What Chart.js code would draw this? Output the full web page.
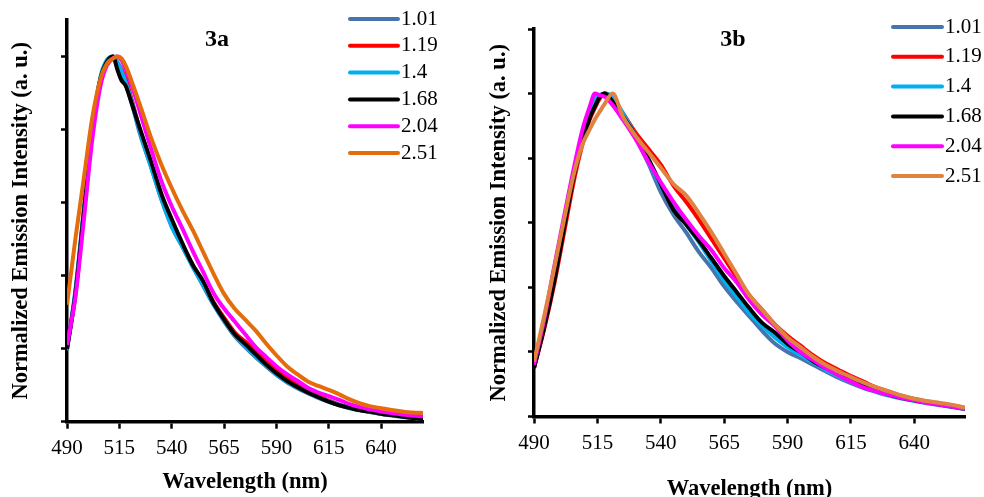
<!DOCTYPE html>
<html>
<head>
<meta charset="utf-8">
<script src="https://cdn.jsdelivr.net/npm/chart.js@4/dist/chart.umd.min.js"></script>
<style>
  html, body { margin: 0; background: #fff; }
  #wrap { position: relative; width: 984px; height: 497px; overflow: hidden; }
  canvas { position: absolute; top: 0; }
  #cA { left: 0; }
  #cB { left: 480px; }
</style>
</head>
<body>
<div id="wrap">
  <canvas id="cA" width="480" height="497" style="width:480px;height:497px"></canvas>
  <canvas id="cB" width="504" height="497" style="width:504px;height:497px"></canvas>
</div>
<script>
// emission spectra, normalized, per sample
const wavelengths = [490,494,498,502,506,509,512,514,516,518,521,525,530,535,540,545,550,555,560,565,570,575,580,585,590,595,600,605,610,615,620,625,630,635,640,645,650,655,660];
const xTicks = [490,515,540,565,590,615,640];
const yTicksA = [0,0.2,0.4,0.6,0.8,1.0];
const yTicksB = [0,0.2,0.4,0.6,0.8,1.0,1.2];
const seriesLabels = ['1.01','1.19','1.4','1.68','2.04','2.51'];

// 3a
const a101 = [0.195,0.35,0.57,0.79,0.94,0.985,1.0,0.98,0.955,0.925,0.87,0.785,0.70,0.61,0.535,0.48,0.425,0.372,0.32,0.275,0.235,0.205,0.177,0.152,0.128,0.108,0.092,0.078,0.065,0.054,0.045,0.037,0.031,0.026,0.021,0.017,0.013,0.010,0.007];
const a119 = [0.20,0.355,0.575,0.795,0.94,0.985,1.0,0.985,0.965,0.94,0.88,0.795,0.705,0.615,0.545,0.485,0.43,0.38,0.328,0.285,0.245,0.22,0.195,0.17,0.145,0.12,0.10,0.084,0.07,0.058,0.047,0.039,0.032,0.027,0.022,0.018,0.015,0.011,0.008];
const a140 = [0.20,0.36,0.58,0.80,0.945,0.99,1.0,0.985,0.96,0.93,0.875,0.79,0.70,0.61,0.535,0.48,0.425,0.375,0.322,0.278,0.238,0.208,0.18,0.155,0.13,0.11,0.094,0.08,0.067,0.056,0.046,0.038,0.032,0.027,0.022,0.018,0.014,0.011,0.008];
const a168 = [0.20,0.35,0.57,0.79,0.94,0.985,1.0,0.965,0.935,0.92,0.87,0.80,0.715,0.625,0.555,0.49,0.43,0.385,0.325,0.28,0.24,0.213,0.185,0.157,0.133,0.112,0.095,0.08,0.067,0.055,0.045,0.038,0.031,0.027,0.022,0.018,0.014,0.010,0.007];
const a204 = [0.21,0.34,0.55,0.77,0.92,0.975,0.995,1.0,0.99,0.965,0.92,0.845,0.75,0.66,0.59,0.53,0.468,0.41,0.352,0.31,0.275,0.24,0.205,0.178,0.152,0.13,0.112,0.093,0.08,0.07,0.06,0.048,0.04,0.033,0.028,0.024,0.02,0.017,0.015];
const a251 = [0.32,0.50,0.665,0.83,0.94,0.98,0.995,1.0,0.995,0.975,0.93,0.865,0.78,0.705,0.64,0.58,0.525,0.465,0.405,0.35,0.31,0.28,0.25,0.215,0.182,0.152,0.13,0.11,0.098,0.087,0.075,0.061,0.05,0.042,0.037,0.032,0.028,0.025,0.024];

// 3b
const b101 = [0.15,0.28,0.43,0.60,0.76,0.87,0.94,0.975,0.995,1.0,0.965,0.93,0.865,0.785,0.695,0.625,0.57,0.51,0.46,0.403,0.355,0.31,0.265,0.226,0.20,0.181,0.16,0.14,0.12,0.103,0.088,0.076,0.065,0.056,0.05,0.045,0.038,0.03,0.022];
const b119 = [0.15,0.27,0.41,0.575,0.74,0.84,0.92,0.955,0.985,1.0,0.985,0.94,0.88,0.83,0.78,0.715,0.665,0.61,0.55,0.49,0.43,0.375,0.33,0.285,0.25,0.22,0.19,0.165,0.145,0.125,0.108,0.09,0.077,0.064,0.054,0.046,0.04,0.034,0.027];
const b140 = [0.155,0.29,0.45,0.61,0.77,0.87,0.945,0.985,0.995,1.0,0.99,0.94,0.87,0.79,0.715,0.65,0.595,0.54,0.48,0.42,0.37,0.32,0.28,0.245,0.215,0.19,0.168,0.145,0.125,0.107,0.092,0.078,0.066,0.057,0.048,0.041,0.035,0.029,0.023];
const b168 = [0.15,0.275,0.42,0.59,0.755,0.85,0.925,0.96,0.99,1.0,0.975,0.93,0.87,0.80,0.72,0.64,0.595,0.545,0.49,0.435,0.385,0.335,0.29,0.26,0.225,0.20,0.172,0.15,0.13,0.11,0.095,0.08,0.068,0.058,0.05,0.043,0.037,0.031,0.025];
const b204 = [0.16,0.30,0.465,0.625,0.78,0.885,0.96,1.0,0.995,0.99,0.965,0.92,0.86,0.79,0.725,0.665,0.61,0.56,0.515,0.46,0.415,0.36,0.315,0.28,0.235,0.20,0.175,0.15,0.128,0.108,0.09,0.078,0.068,0.058,0.05,0.042,0.036,0.03,0.024];
const b251 = [0.17,0.31,0.46,0.615,0.76,0.84,0.89,0.92,0.945,0.97,1.0,0.93,0.87,0.82,0.77,0.72,0.685,0.63,0.57,0.505,0.44,0.375,0.33,0.285,0.245,0.215,0.185,0.16,0.14,0.122,0.105,0.09,0.078,0.065,0.055,0.048,0.042,0.036,0.027];

const colorsA = ['#4775AB','#FF0000','#00B0F0','#000000','#FF00FF','#E46C0A'];
const colorsB = ['#4775AB','#FF0000','#00B0F0','#000000','#FF00FF','#DE8340'];

const SERIF = '"Liberation Serif", "Times New Roman", serif';

// legend rows + panel tag, drawn on top of the plot
const seriesKey = {
  id: 'seriesKey',
  afterDraw(chart, args, o) {
    const ctx = chart.ctx;
    ctx.save();
    chart.data.datasets.forEach((ds, i) => {
      const y = o.top + i * o.step;
      ctx.strokeStyle = ds.borderColor;
      ctx.lineWidth = 4;
      ctx.lineCap = 'round';
      ctx.beginPath();
      ctx.moveTo(o.left, y);
      ctx.lineTo(o.left + o.len, y);
      ctx.stroke();
      ctx.fillStyle = '#000';
      ctx.font = '21px ' + SERIF;
      ctx.textAlign = 'left';
      ctx.textBaseline = 'middle';
      ctx.fillText(ds.label, o.left + o.len + 3, y);
    });
    ctx.font = 'bold 24px ' + SERIF;
    ctx.textAlign = 'center';
    ctx.fillText(o.tag, o.tagX, o.tagY);
    ctx.restore();
  }
};

function makeChart(id, series, colors, cfg) {
  const datasets = series.map((vals, i) => ({
    label: seriesLabels[i],
    data: vals.map((v, k) => ({x: wavelengths[k], y: v})),
    borderColor: colors[i],
    backgroundColor: colors[i],
    borderWidth: 4,
    pointRadius: 0,
    fill: false,
    cubicInterpolationMode: 'monotone',
    order: series.length - i
  }));
  const axisBorder = {display: true, color: '#000', width: 3.5};
  return new Chart(document.getElementById(id), {
    type: 'line',
    data: {datasets},
    options: {
      responsive: false,
      animation: false,
      events: [],
      layout: {padding: {top: cfg.padTop, right: cfg.padRight, left: 0, bottom: 0}},
      plugins: {legend: {display: false}, tooltip: {enabled: false}, seriesKey: cfg.key},
      scales: {
        x: {
          type: 'linear', min: 490, max: 660,
          afterBuildTicks: s => { s.ticks = xTicks.map(v => ({value: v})); },
          afterFit: s => { s.height = cfg.xHeight; },
          grid: {drawOnChartArea: false, drawTicks: true, tickLength: 7, tickWidth: 2.5, tickColor: '#000'},
          border: axisBorder,
          ticks: {autoSkip: false, maxRotation: 0, padding: 7.5, color: '#000', font: {family: SERIF, size: 21}},
          title: {display: true, text: 'Wavelength (nm)', color: '#000',
                  font: {family: SERIF, size: 22.5, weight: 'bold'}, padding: {top: 0, bottom: cfg.xTitlePad}}
        },
        y: {
          type: 'linear', min: 0, max: cfg.yMax,
          afterBuildTicks: s => { s.ticks = cfg.yTicks.map(v => ({value: v})); },
          afterFit: s => { s.width = cfg.yWidth; },
          grid: {drawOnChartArea: false, drawTicks: true, tickLength: 6, tickWidth: 2.5, tickColor: '#000'},
          border: axisBorder,
          ticks: {callback: () => ''},
          title: {display: true, text: 'Normalized Emission Intensity (a. u.)', color: '#000',
                  font: {family: SERIF, size: 22.5, weight: 'bold'}, padding: {top: cfg.yTitlePad, bottom: 0}}
        }
      }
    },
    plugins: [seriesKey]
  });
}

makeChart('cA', [a101, a119, a140, a168, a204, a251], colorsA, {
  padTop: 20, padRight: 57, yWidth: 67, xHeight: 75.3, yMax: 1.1, yTicks: yTicksA,
  xTitlePad: 1.5, yTitlePad: 7.2,
  key: {left: 350, top: 19, step: 26.8, len: 48, tag: '3a', tagX: 217, tagY: 40}
});
makeChart('cB', [b101, b119, b140, b168, b204, b251], colorsB, {
  padTop: 29, padRight: 19, yWidth: 54, xHeight: 80.5, yMax: 1.2, yTicks: yTicksB,
  xTitlePad: -6, yTitlePad: 5.6,
  key: {left: 413, top: 27, step: 29.8, len: 49, tag: '3b', tagX: 253, tagY: 40}
});
</script>
</body>
</html>
